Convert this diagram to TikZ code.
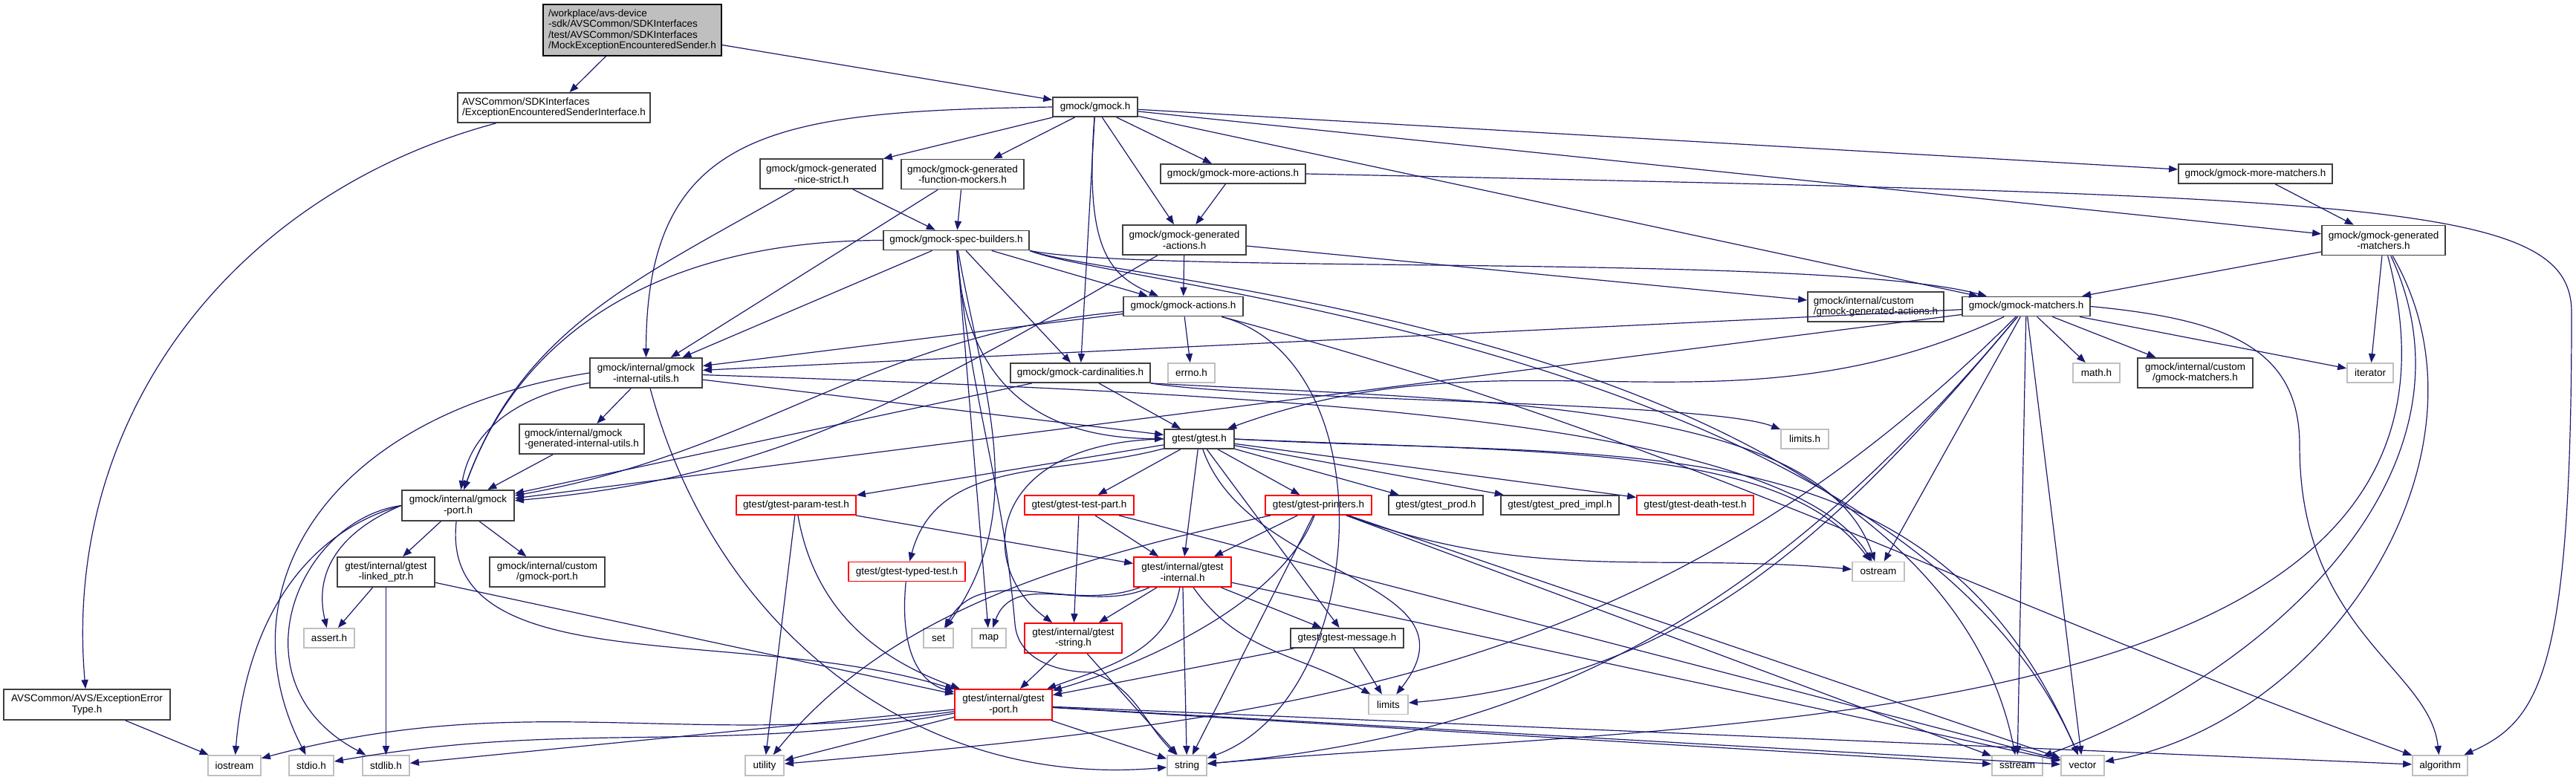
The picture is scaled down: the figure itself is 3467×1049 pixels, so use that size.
\documentclass[tikz,border=0pt]{standalone}
\usepackage{fontspec}
\setmainfont{Liberation Sans}
\usetikzlibrary{arrows.meta}
\definecolor{depblue}{HTML}{191970}
\definecolor{boxgray}{HTML}{404040}
\definecolor{sysgray}{HTML}{BFBFBF}
\definecolor{rootgray}{HTML}{BFBFBF}
\tikzset{
	box/.style={draw=boxgray,fill=white,line width=0.45pt,inner sep=0pt,align=center},
	sys/.style={box,draw=sysgray},
	trunc/.style={box,draw=red},
	wh/.style 2 args={minimum width=#1*0.25pt,minimum height=#2*0.25pt},
	dep/.style={depblue,line width=0.3pt,-{Triangle[length=3pt,width=2.3pt]}}
}
\begin{document}
\begin{tikzpicture}[x=0.25pt,y=-0.25pt,font=\fontsize{3.375}{3.6}\selectfont]
			\useasboundingbox (0,0) rectangle (3467,1049);
			\node[box,fill=rootgray,draw=black,align=left,wh={240}{69}] (root) at (851,40.5) {/workplace/avs-device\\-sdk/AVSCommon/SDKInterfaces\\/test/AVSCommon/SDKInterfaces\\/MockExceptionEncounteredSender.h};
			\node[box,align=left,wh={259}{40}] (exIface) at (745.5,145) {AVSCommon/SDKInterfaces\\/ExceptionEncounteredSenderInterface.h};
			\node[box,wh={224}{41}] (exType) at (117,948.5) {AVSCommon/AVS/ExceptionError\\Type.h};
			\node[box,wh={114}{26}] (gmock) at (1474,144) {gmock/gmock.h};
			\node[box,wh={165}{40}] (niceStrict) at (1105.5,234) {gmock/gmock-generated\\-nice-strict.h};
			\node[box,wh={165}{40}] (funcMockers) at (1295.5,234.5) {gmock/gmock-generated\\-function-mockers.h};
			\node[box,wh={195}{26}] (moreActions) at (1659.5,234) {gmock/gmock-more-actions.h};
			\node[box,wh={207}{26}] (moreMatchers) at (3035.5,234) {gmock/gmock-more-matchers.h};
			\node[box,wh={166}{40}] (genMatchers) at (3208,323.5) {gmock/gmock-generated\\-matchers.h};
			\node[box,wh={196}{26}] (specBuilders) at (1287,323.5) {gmock/gmock-spec-builders.h};
			\node[box,wh={166}{40}] (genActions) at (1594,323) {gmock/gmock-generated\\-actions.h};
			\node[box,align=left,wh={183}{40}] (customGenActions) at (2524.5,413) {gmock/internal/custom\\/gmock-generated-actions.h};
			\node[box,wh={161}{26}] (actions) at (1592.5,412.5) {gmock/gmock-actions.h};
			\node[box,wh={172}{26}] (matchers) at (2727,412.5) {gmock/gmock-matchers.h};
			\node[box,wh={151}{40}] (internalUtils) at (869.5,502) {gmock/internal/gmock\\-internal-utils.h};
			\node[box,wh={188}{26}] (cardinalities) at (1454,502) {gmock/gmock-cardinalities.h};
			\node[sys,wh={63}{26}] (errno) at (1603.5,502) {errno.h};
			\node[sys,wh={63}{26}] (mathh) at (2821.5,502) {math.h};
			\node[box,wh={155}{40}] (customMatchers) at (2954.5,502) {gmock/internal/custom\\/gmock-matchers.h};
			\node[sys,wh={62}{26}] (iterator) at (3190,502) {iterator};
			\node[sys,wh={64}{26}] (limitsh) at (2429,591) {limits.h};
			\node[box,wh={94}{26}] (gtest) at (1614,591) {gtest/gtest.h};
			\node[box,align=left,wh={168}{40}] (genInternalUtils) at (783,591) {gmock/internal/gmock\\-generated-internal-utils.h};
			\node[box,wh={151}{41}] (gmockPort) at (616.5,680.5) {gmock/internal/gmock\\-port.h};
			\node[trunc,wh={161}{26}] (paramTest) at (1071.5,680) {gtest/gtest-param-test.h};
			\node[trunc,wh={147}{26}] (testPart) at (1452.5,680) {gtest/gtest-test-part.h};
			\node[trunc,wh={143}{26}] (printers) at (1774.5,680) {gtest/gtest-printers.h};
			\node[box,wh={127}{26}] (prod) at (1932.5,680) {gtest/gtest\_prod.h};
			\node[box,wh={159}{26}] (predImpl) at (2099.5,680) {gtest/gtest\_pred\_impl.h};
			\node[trunc,wh={157}{26}] (deathTest) at (2281.5,680) {gtest/gtest-death-test.h};
			\node[box,wh={131}{40}] (linkedPtr) at (519.5,770) {gtest/internal/gtest\\-linked\_ptr.h};
			\node[box,wh={155}{40}] (customPort) at (736.5,770) {gmock/internal/custom\\/gmock-port.h};
			\node[trunc,wh={157}{26}] (typedTest) at (1220.5,769.5) {gtest/gtest-typed-test.h};
			\node[trunc,wh={131}{40}] (gtestInternal) at (1591.5,770) {gtest/internal/gtest\\-internal.h};
			\node[sys,wh={70}{26}] (ostream) at (2528,769.5) {ostream};
			\node[sys,wh={68}{26}] (assert) at (443,859) {assert.h};
			\node[sys,wh={40}{26}] (set) at (1263,859) {set};
			\node[sys,wh={46}{26}] (map) at (1331,859) {map};
			\node[trunc,wh={131}{40}] (gtestString) at (1444.5,859) {gtest/internal/gtest\\-string.h};
			\node[box,wh={152}{26}] (message) at (1813,859) {gtest/gtest-message.h};
			\node[trunc,wh={131}{41}] (gtestPort) at (1350.5,948.5) {gtest/internal/gtest\\-port.h};
			\node[sys,wh={53}{26}] (limits) at (1868.5,948.5) {limits};
			\node[sys,wh={71}{27}] (iostream) at (315.5,1030.5) {iostream};
			\node[sys,wh={60}{27}] (stdio) at (419,1030.5) {stdio.h};
			\node[sys,wh={63}{27}] (stdlib) at (519.5,1030.5) {stdlib.h};
			\node[sys,wh={52}{27}] (utility) at (1029,1030.5) {utility};
			\node[sys,wh={53}{27}] (string) at (1597.5,1030.5) {string};
			\node[sys,wh={68}{27}] (sstream) at (2715,1030.5) {sstream};
			\node[sys,wh={58}{27}] (vector) at (2803,1030.5) {vector};
			\node[sys,wh={74}{27}] (algorithm) at (3284,1030.5) {algorithm};
			\draw[dep] (root) -- (exIface);
			\draw[dep] (root) -- (gmock);
			\draw[dep] (exIface) to[out=195,in=95] (exType);
			\draw[dep] (exType) -- (iostream);
			\draw[dep] (gmock) -- (niceStrict);
			\draw[dep] (gmock) -- (funcMockers);
			\draw[dep] (gmock.west) .. controls (1050,150) and (870,170) .. (internalUtils);
			\draw[dep] (gmock) -- (cardinalities);
			\draw[dep] (gmock) .. controls (1460,330) and (1490,370) .. (actions);
			\draw[dep] (gmock) -- (genActions);
			\draw[dep] (gmock) -- (moreActions);
			\draw[dep] (gmock) -- (matchers);
			\draw[dep] (gmock) -- (genMatchers);
			\draw[dep] (gmock) -- (moreMatchers);
			\draw[dep] (niceStrict) -- (specBuilders);
			\draw[dep] (niceStrict) to[out=210,in=70] (gmockPort);
			\draw[dep] (funcMockers) -- (specBuilders);
			\draw[dep] (funcMockers) -- (internalUtils);
			\draw[dep] (moreActions) -- (genActions);
			\draw[dep] (moreActions.east) .. controls (3200,265) and (3460,270) .. (3461,420) .. controls (3461,900) and (3420,970) .. (algorithm);
			\draw[dep] (moreMatchers) -- (genMatchers);
			\draw[dep] (genMatchers) -- (matchers);
			\draw[dep] (genMatchers) -- (iterator);
			\draw[dep] (genMatchers) to[out=-65,in=20] (sstream);
			\draw[dep] (genMatchers) to[out=-75,in=5] (string);
			\draw[dep] (genMatchers) to[out=-60,in=10] (vector);
			\draw[dep] (specBuilders) -- (internalUtils);
			\draw[dep] (specBuilders) to[out=180,in=70] (gmockPort);
			\draw[dep] (specBuilders) to[out=-80,in=55] (set);
			\draw[dep] (specBuilders) -- (map);
			\draw[dep] (specBuilders) to[out=-85,in=95] (1366,840) to[out=-85,in=180] (1470,905) to[out=-20,in=135] (string);
			\draw[dep] (specBuilders) -- (cardinalities);
			\draw[dep] (specBuilders) -- (actions);
			\draw[dep] (specBuilders) .. controls (1300,560) and (1450,590) .. (gtest);
			\draw[dep] (specBuilders.south east) .. controls (1550,370) and (2450,340) .. (matchers);
			\draw[dep] (specBuilders.south east) .. controls (1500,380) and (2600,450) .. (sstream);
			\draw[dep] (specBuilders.south east) .. controls (1500,385) and (2560,470) .. (vector);
			\draw[dep] (genActions) -- (actions);
			\draw[dep] (genActions) to[out=210,in=5] (gmockPort);
			\draw[dep] (genActions) -- (customGenActions);
			\draw[dep] (actions) -- (errno);
			\draw[dep] (actions) -- (internalUtils);
			\draw[dep] (actions) to[out=185,in=10] (gmockPort);
			\draw[dep] (actions) to[out=-15,in=20] (string);
			\draw[dep] (actions) to[out=-15,in=160] (algorithm);
			\draw[dep] (cardinalities) -- (gtest);
			\draw[dep] (cardinalities.south east) .. controls (1700,540) and (2300,540) .. (limitsh);
			\draw[dep] (cardinalities.south east) .. controls (2000,540) and (2450,540) .. (ostream);
			\draw[dep] (cardinalities) -- (gmockPort);
			\draw[dep] (matchers) -- (internalUtils);
			\draw[dep] (matchers) -- (gmockPort);
			\draw[dep] (matchers) to[out=205,in=20] (gtest);
			\draw[dep] (matchers) -- (mathh);
			\draw[dep] (matchers) -- (customMatchers);
			\draw[dep] (matchers) -- (iterator);
			\draw[dep] (matchers.east) .. controls (3000,430) and (3095,470) .. (3095,600) .. controls (3095,850) and (3270,900) .. (algorithm);
			\draw[dep] (matchers) -- (vector);
			\draw[dep] (matchers) -- (sstream);
			\draw[dep] (matchers) to[out=-130,in=5] (string);
			\draw[dep] (matchers) to[out=-130,in=5] (limits);
			\draw[dep] (matchers) -- (ostream);
			\draw[dep] (matchers) to[out=-135,in=5] (utility);
			\draw[dep] (internalUtils) -- (genInternalUtils);
			\draw[dep] (internalUtils) to[out=190,in=80] (gmockPort);
			\draw[dep] (internalUtils.west) .. controls (430,560) and (300,800) .. (stdio);
			\draw[dep] (internalUtils) -- (gtest);
			\draw[dep] (internalUtils) .. controls (1700,530) and (2400,560) .. (ostream);
			\draw[dep] (internalUtils) to[out=-75,in=185] (string);
			\draw[dep] (genInternalUtils) -- (gmockPort);
			\draw[dep] (gmockPort) -- (linkedPtr);
			\draw[dep] (gmockPort) -- (customPort);
			\draw[dep] (gmockPort.west) .. controls (400,720) and (330,850) .. (iostream);
			\draw[dep] (gmockPort.west) .. controls (400,700) and (310,920) .. (stdlib);
			\draw[dep] (gmockPort.west) .. controls (470,710) and (420,760) .. (assert);
			\draw[dep] (gmockPort) .. controls (590,920) and (1000,840) .. (gtestPort);
			\draw[dep] (linkedPtr) -- (assert);
			\draw[dep] (linkedPtr) -- (stdlib);
			\draw[dep] (linkedPtr) -- (gtestPort);
			\draw[dep] (gtest) -- (paramTest);
			\draw[dep] (gtest) to[out=195,in=75] (typedTest);
			\draw[dep] (gtest.west) .. controls (1330,595) and (1310,760) .. (gtestString);
			\draw[dep] (gtest) -- (testPart);
			\draw[dep] (gtest) -- (gtestInternal);
			\draw[dep] (gtest) -- (message);
			\draw[dep] (gtest) -- (printers);
			\draw[dep] (gtest) -- (prod);
			\draw[dep] (gtest) -- (predImpl);
			\draw[dep] (gtest) -- (deathTest);
			\draw[dep] (gtest.east) .. controls (2100,610) and (2400,600) .. (ostream);
			\draw[dep] (gtest.east) .. controls (2200,620) and (2600,560) .. (vector);
			\draw[dep] (gtest) .. controls (1680,780) and (2000,780) .. (limits);
			\draw[dep] (paramTest) -- (utility);
			\draw[dep] (paramTest) -- (gtestInternal);
			\draw[dep] (paramTest) to[out=-80,in=160] (gtestPort);
			\draw[dep] (typedTest) .. controls (1210,880) and (1240,920) .. (gtestPort);
			\draw[dep] (testPart) -- (gtestInternal);
			\draw[dep] (testPart) -- (gtestString);
			\draw[dep] (testPart) -- (vector);
			\draw[dep] (printers) -- (gtestInternal);
			\draw[dep] (printers) .. controls (1720,820) and (1520,900) .. (gtestPort);
			\draw[dep] (printers) .. controls (1450,750) and (1200,820) .. (utility);
			\draw[dep] (printers) to[out=-20,in=175] (ostream);
			\draw[dep] (printers) -- (sstream);
			\draw[dep] (printers) -- (string);
			\draw[dep] (printers) -- (vector);
			\draw[dep] (gtestInternal) to[out=200,in=60] (set);
			\draw[dep] (gtestInternal) to[out=205,in=70] (map);
			\draw[dep] (gtestInternal) -- (gtestString);
			\draw[dep] (gtestInternal) to[out=-100,in=20] (gtestPort);
			\draw[dep] (gtestInternal) -- (string);
			\draw[dep] (gtestInternal) to[out=-55,in=150] (limits);
			\draw[dep] (gtestInternal) -- (message);
			\draw[dep] (gtestInternal) -- (vector);
			\draw[dep] (message) -- (limits);
			\draw[dep] (message) -- (gtestPort);
			\draw[dep] (gtestString) -- (gtestPort);
			\draw[dep] (gtestString) -- (string);
			\draw[dep] (gtestPort) to[out=188,in=15] (iostream);
			\draw[dep] (gtestPort) to[out=190,in=10] (stdio);
			\draw[dep] (gtestPort) -- (stdlib);
			\draw[dep] (gtestPort) -- (utility);
			\draw[dep] (gtestPort) -- (string);
			\draw[dep] (gtestPort) -- (sstream);
			\draw[dep] (gtestPort) -- (vector);
			\draw[dep] (gtestPort) -- (algorithm);
		\end{tikzpicture}
\end{document}
